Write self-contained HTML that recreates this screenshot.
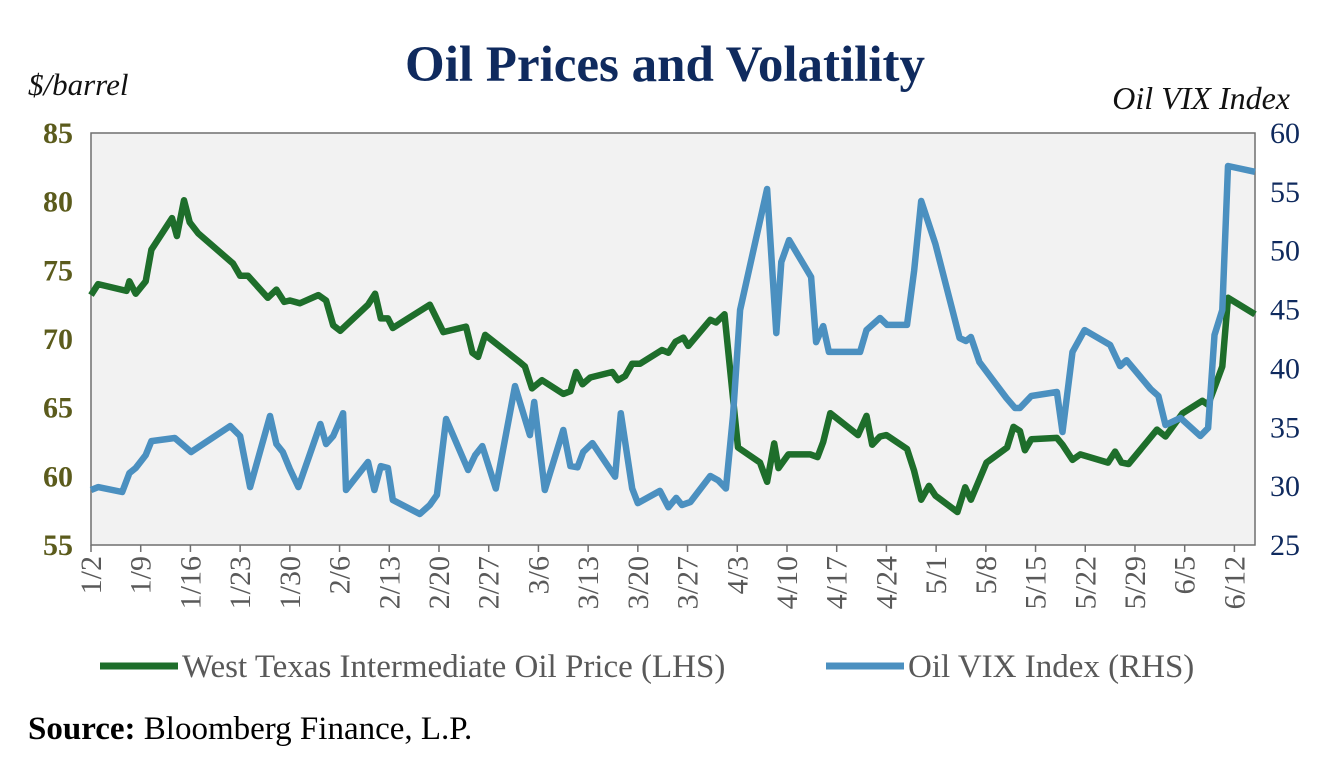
<!DOCTYPE html>
<html><head><meta charset="utf-8"><style>
body{margin:0;background:#fff;width:1335px;height:759px;overflow:hidden;font-family:"Liberation Serif",serif;}
svg text{font-family:"Liberation Serif",serif;}
</style></head><body>
<svg id="chart" width="1335" height="759">
<text x="665" y="81" text-anchor="middle" font-size="51" font-weight="bold" fill="#0f2a5e">Oil Prices and Volatility</text>
<text x="28" y="95" font-size="31" font-style="italic" fill="#111">$/barrel</text>
<text x="1290" y="109" text-anchor="end" font-size="32" font-style="italic" fill="#111">Oil VIX Index</text>
<rect x="91" y="133" width="1164" height="412" fill="#f2f2f2" stroke="#6f6f6f" stroke-width="1.5"/>
<g id="axes"></g>
<g id="lines"></g>
<line x1="100" y1="666" x2="178" y2="666" stroke="#1e6e2b" stroke-width="7"/>
<text x="182" y="677" font-size="33" fill="#595959">West Texas Intermediate Oil Price (LHS)</text>
<line x1="826" y1="666" x2="904" y2="666" stroke="#4b90c0" stroke-width="7"/>
<text x="908" y="677" font-size="33" fill="#595959">Oil VIX Index (RHS)</text>
<text x="28" y="739" font-size="33" fill="#000"><tspan font-weight="bold">Source:</tspan> Bloomberg Finance, L.P.</text>
</svg>
<script>
const xTickLabels=["1/2","1/9","1/16","1/23","1/30","2/6","2/13","2/20","2/27","3/6","3/13","3/20","3/27","4/3","4/10","4/17","4/24","5/1","5/8","5/15","5/22","5/29","6/5","6/12"];
const leftTicks=[55,60,65,70,75,80,85];
const rightTicks=[25,30,35,40,45,50,55,60];
const wtiDays=[0,1,5,5.4,6.3,7.7,8.5,11.4,12.1,13.1,13.9,15.1,20,21,22.1,24.9,26.1,27.2,28,29.4,32,33.1,34.1,35.1,39,40,40.8,41.8,42.5,47.7,49.6,52.8,53.7,54.5,55.5,60.4,61.1,62.1,63.5,66.5,67.5,68.3,69.2,70.3,73.4,74.2,75.2,76.2,77.3,80.4,81.3,82.3,83.4,84.1,87.2,88,89.2,91.1,94.2,95.2,96.2,96.8,98.2,101.3,102.3,103.1,104.1,108,109.2,110,111.1,112,114.9,115.9,116.9,118,118.9,122,123.1,123.9,126.1,129,129.9,130.8,131.5,132.4,136,136.8,138.2,139.3,143.2,144.2,145.1,146.1,150.1,151.3,153.7,156.5,157.3,159.3,160.1,163.9];
const wtiValues=[73.2,74,73.5,74.2,73.3,74.2,76.5,78.8,77.5,80.1,78.5,77.7,75.5,74.6,74.6,73,73.6,72.7,72.8,72.6,73.2,72.8,71,70.6,72.5,73.3,71.5,71.5,70.8,72.5,70.5,70.9,69,68.7,70.3,68.3,68,66.4,67,66,66.2,67.6,66.7,67.2,67.6,67,67.3,68.2,68.2,69.2,69,69.8,70.1,69.5,71.4,71.2,71.8,62.1,61,59.6,62.4,60.6,61.6,61.6,61.4,62.5,64.6,63,64.4,62.3,62.9,63,62,60.4,58.3,59.3,58.6,57.4,59.2,58.3,61,62.1,63.6,63.3,61.9,62.7,62.8,62.3,61.2,61.6,61,61.8,61,60.9,63.4,62.9,64.6,65.5,65.2,68,73,71.8];
const vixDays=[0,1,4.4,5.4,6.3,7.7,8.5,11.8,14.1,19.6,21,22.4,25.2,26.1,27,28,29.2,32.3,33.1,34.1,35.5,35.9,39,39.9,40.8,41.8,42.5,46.3,47.7,48.7,50,53.1,54.1,55.1,57,59.7,61.8,62.4,63.9,66.5,67.5,68.5,69.3,70.6,73.8,74.6,76.2,77,80.1,81.3,82.4,83.2,84.4,87.2,88.3,89.4,90.4,91.4,95.2,96.5,97.2,98.3,101.4,102.1,103.1,103.9,108.3,109.2,111.1,112.1,114.9,115.9,116.9,118.9,122.3,123.2,123.9,125.1,128.9,130.1,130.8,132.4,136,136.8,138.2,139.9,143.5,144.9,145.8,149.2,150.3,151.3,153.4,156.2,157.3,158.2,159.3,160.1,163.9];
const vixValues=[29.67,29.92,29.5,31.11,31.54,32.64,33.83,34.09,32.9,35.1,34.26,29.92,35.96,33.58,32.9,31.45,29.92,35.28,33.58,34.26,36.2,29.67,32.05,29.67,31.7,31.54,28.82,27.63,28.4,29.25,35.7,31.37,32.64,33.4,29.8,38.5,34.34,37.15,29.67,34.77,31.7,31.6,32.9,33.66,30.8,36.2,29.8,28.56,29.6,28.2,29,28.4,28.65,30.86,30.5,29.8,35.96,44.96,55.24,43,49.04,50.9,47.77,42.24,43.6,41.4,41.4,43.26,44.28,43.7,43.7,48.28,54.22,50.57,42.58,42.33,42.67,40.54,37.49,36.64,36.64,37.66,38,34.6,41.4,43.26,42,40.2,40.7,38.25,37.66,35.19,35.8,34.26,34.94,42.84,44.96,57.2,56.7];

const X0=91,X1=1255,Y0=545,Y1=133,DMAX=163.9;
function xs(d){return X0+(X1-X0)*d/DMAX;}
function yl(v){return Y0-(v-55)/30*(Y0-Y1);}
function yr(v){return Y0-(v-25)/35*(Y0-Y1);}
const NS="http://www.w3.org/2000/svg";
const axes=document.getElementById('axes'),lines=document.getElementById('lines');
function mk(tag,attrs,parent){const e=document.createElementNS(NS,tag);for(const k in attrs)e.setAttribute(k,attrs[k]);parent.appendChild(e);return e;}
leftTicks.forEach(v=>{
  const t=mk('text',{x:73,y:yl(v)+10,'text-anchor':'end','font-size':30,'font-weight':'bold',fill:'#5b5b1c'},axes);
  t.textContent=v;
  
  
});
rightTicks.forEach(v=>{
  const t=mk('text',{x:1300,y:yr(v)+10,'text-anchor':'end','font-size':30,fill:'#0f2a5e'},axes);
  t.textContent=v;
  
  
});
xTickLabels.forEach((lab,i)=>{
  const x=xs(i*7);
  const tk=mk('line',{x1:x,y1:545,x2:x,y2:552,stroke:'#6f6f6f','stroke-width':1.5},axes);
  
  
  const t=mk('text',{x:0,y:0,'text-anchor':'end','font-size':30,fill:'#595959',transform:`translate(${x+10},556) rotate(-90)`},axes);
  t.textContent=lab;
  
  
});
function pathOf(days,vals,yf){return days.map((d,i)=>(i?'L':'M')+xs(d).toFixed(1)+','+yf(vals[i]).toFixed(1)).join(' ');}
const w=mk('path',{d:pathOf(wtiDays,wtiValues,yl),fill:'none',stroke:'#1e6e2b','stroke-width':6.5,'stroke-linejoin':'round'},lines);


const v=mk('path',{d:pathOf(vixDays,vixValues,yr),fill:'none',stroke:'#4b90c0','stroke-width':6.5,'stroke-linejoin':'round'},lines);


</script>
</body></html>
